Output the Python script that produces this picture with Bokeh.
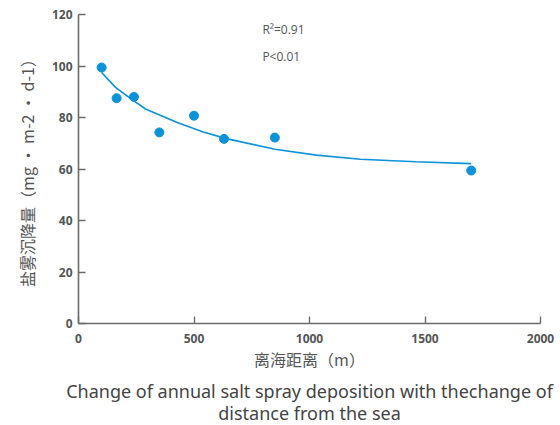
from bokeh.plotting import figure
from bokeh.models import Range1d, FixedTicker, Title, Label
from bokeh.embed import file_html
from bokeh.resources import INLINE

# data
distance = [100, 165, 240, 350, 500, 630, 850, 1700]
deposition = [99.4, 87.5, 88.0, 74.2, 80.7, 71.7, 72.2, 59.4]

# fitted trend curve
fit_x = [100, 160, 220, 290, 430, 540, 640, 850, 1030, 1220, 1460, 1700]
fit_y = [97.5, 91.7, 87.7, 83.3, 78.0, 74.4, 71.8, 67.7, 65.4, 63.8, 62.8, 62.1]

x_ticks = [0, 500, 1000, 1500, 2000]
y_ticks = [0, 20, 40, 60, 80, 100, 120]

stats = ["R\u00b2=0.91", "P<0.01"]
stats_y = [114, 103.6]

BLUE = "#0b93d9"
CJK = "Noto Sans CJK SC"

p = figure(width=558, height=425, output_backend="svg", toolbar_location=None,
           x_range=Range1d(0, 2000), y_range=Range1d(0, 120),
           min_border_left=78, min_border_right=18, min_border_top=14,
           min_border_bottom=102)
p.outline_line_color = None
p.xgrid.grid_line_color = None
p.ygrid.grid_line_color = None

p.line(fit_x, fit_y, line_color=BLUE, line_width=1.6)
p.scatter(distance, deposition, size=9, fill_color=BLUE, line_color=BLUE)

for ax in (p.xaxis[0], p.yaxis[0]):
    ax.axis_line_color = "#6b6b6b"
    ax.axis_line_width = 1.6
    ax.major_tick_line_color = "#6b6b6b"
    ax.major_tick_line_width = 1.4
    ax.major_tick_in = 7
    ax.major_tick_out = 0
    ax.minor_tick_line_color = None
    ax.major_label_text_font = "Open Sans"
    ax.major_label_text_font_style = "bold"
    ax.major_label_text_font_size = "12px"
    ax.major_label_text_color = "#555555"
    ax.axis_label_text_font = CJK
    ax.axis_label_text_font_style = "normal"
    ax.axis_label_text_font_size = "16px"
    ax.axis_label_text_color = "#555555"

p.xaxis.ticker = FixedTicker(ticks=x_ticks)
p.yaxis.ticker = FixedTicker(ticks=y_ticks)
p.xaxis.major_label_standoff = 10
p.yaxis.major_label_standoff = 6
p.xaxis.axis_label = "离海距离（m）"
p.yaxis.axis_label = "盐雾沉降量（mg · m-2 · d-1）"
p.xaxis.axis_label_standoff = 1
p.yaxis.axis_label_standoff = 10

for s, yy in zip(stats, stats_y):
    p.add_layout(Label(x=796, y=yy, text=s, text_font="Open Sans",
                       text_font_size="12px", text_color="#555555",
                       text_baseline="middle"))

t1 = Title(text="Change of annual salt spray deposition with thechange of",
           align="center", text_font="Noto Sans", text_font_style="normal",
           text_font_size="18px", text_color="#444444", standoff=7)
t2 = Title(text="distance from the sea",
           align="center", text_font="Noto Sans", text_font_style="normal",
           text_font_size="18px", text_color="#444444", standoff=-15)
p.add_layout(t1, "below")
p.add_layout(t2, "below")

open("out.html", "w").write(file_html(p, INLINE))
